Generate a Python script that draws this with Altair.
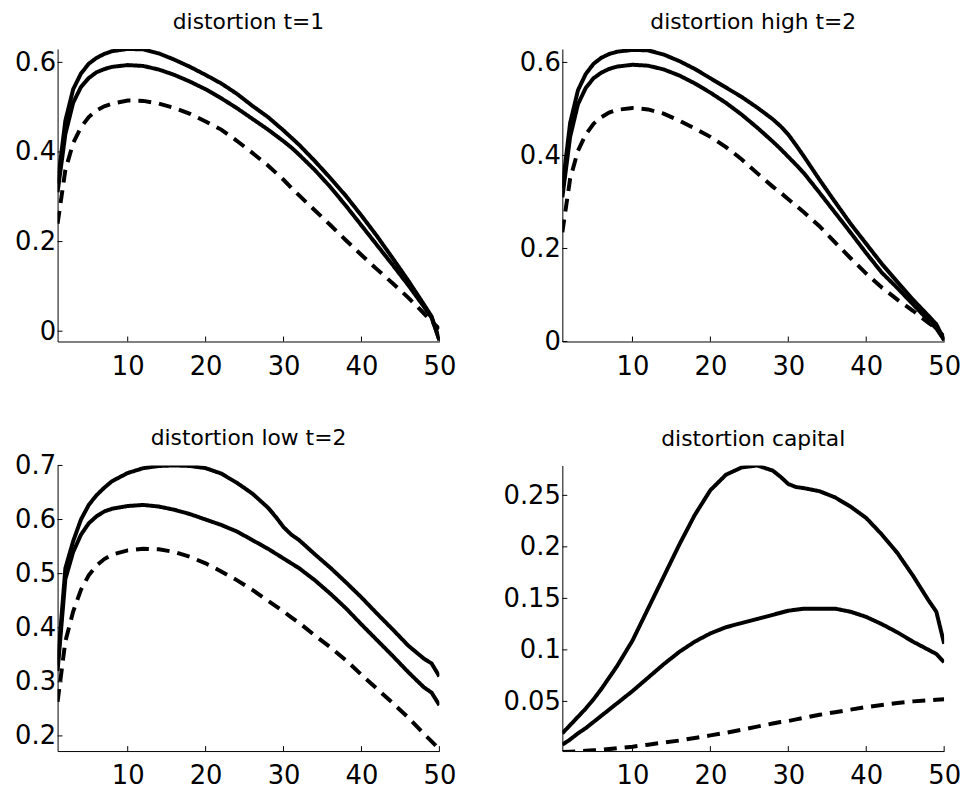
import altair as alt
import pandas as pd

X = [1, 2, 3, 4, 5, 6, 7, 8, 10, 12, 14, 16, 18, 20, 22, 24, 26, 28, 29, 30, 31,
     32, 34, 36, 38, 40, 42, 44, 46, 48, 49, 50]

A1 = [0.33, 0.47, 0.54, 0.575, 0.597, 0.61, 0.619, 0.625, 0.63, 0.629, 0.62, 0.606, 0.59, 0.572, 0.553, 0.53,
      0.503, 0.478, 0.463, 0.448, 0.432, 0.416, 0.38, 0.342, 0.302, 0.258, 0.212, 0.163, 0.113, 0.06, 0.033, -0.02]
B1 = [0.31, 0.44, 0.51, 0.545, 0.565, 0.578, 0.585, 0.59, 0.594, 0.592, 0.584, 0.572, 0.557, 0.54, 0.52, 0.498,
      0.474, 0.45, 0.437, 0.424, 0.41, 0.394, 0.36, 0.322, 0.28, 0.236, 0.192, 0.148, 0.103, 0.055, 0.03, -0.02]
C1 = [0.24, 0.36, 0.42, 0.455, 0.478, 0.493, 0.502, 0.508, 0.515, 0.514, 0.508, 0.498, 0.485, 0.468, 0.45, 0.425,
      0.398, 0.37, 0.354, 0.338, 0.32, 0.303, 0.27, 0.237, 0.203, 0.17, 0.138, 0.107, 0.075, 0.04, 0.022, 0.005]

A2 = [0.33, 0.47, 0.54, 0.575, 0.597, 0.61, 0.618, 0.623, 0.627, 0.626, 0.617, 0.603, 0.586, 0.566, 0.546, 0.526,
      0.503, 0.478, 0.463, 0.445, 0.422, 0.398, 0.348, 0.3, 0.253, 0.21, 0.167, 0.128, 0.09, 0.055, 0.037, 0.003]
B2 = [0.31, 0.44, 0.51, 0.545, 0.566, 0.578, 0.586, 0.591, 0.595, 0.593, 0.585, 0.572, 0.555, 0.535, 0.513, 0.488,
      0.46, 0.43, 0.414, 0.397, 0.38, 0.362, 0.32, 0.277, 0.234, 0.19, 0.148, 0.115, 0.08, 0.045, 0.028, 0.003]
C2 = [0.235, 0.35, 0.41, 0.445, 0.468, 0.482, 0.492, 0.498, 0.502, 0.499, 0.49, 0.475, 0.458, 0.44, 0.418, 0.392,
      0.362, 0.333, 0.32, 0.306, 0.292, 0.278, 0.248, 0.213, 0.179, 0.146, 0.116, 0.09, 0.066, 0.04, 0.028, 0.01]

A3 = [0.33, 0.51, 0.56, 0.6, 0.627, 0.645, 0.659, 0.671, 0.686, 0.695, 0.699, 0.7, 0.699, 0.695, 0.685, 0.668,
      0.648, 0.622, 0.605, 0.586, 0.572, 0.562, 0.536, 0.511, 0.484, 0.456, 0.426, 0.397, 0.367, 0.343, 0.334, 0.31]
B3 = [0.32, 0.49, 0.54, 0.572, 0.593, 0.606, 0.615, 0.62, 0.625, 0.627, 0.624, 0.618, 0.61, 0.6, 0.59, 0.578,
      0.562, 0.546, 0.537, 0.528, 0.519, 0.51, 0.488, 0.463, 0.436, 0.406, 0.377, 0.348, 0.318, 0.29, 0.28, 0.257]
C3 = [0.263, 0.375, 0.43, 0.47, 0.497, 0.515, 0.527, 0.535, 0.543, 0.546, 0.545, 0.54, 0.531, 0.519, 0.504, 0.488,
      0.47, 0.45, 0.44, 0.43, 0.419, 0.409, 0.386, 0.364, 0.34, 0.313, 0.287, 0.261, 0.234, 0.204, 0.19, 0.175]

A4 = [0.019, 0.027, 0.035, 0.043, 0.052, 0.062, 0.073, 0.084, 0.109, 0.14, 0.171, 0.202, 0.231, 0.255, 0.27, 0.277,
      0.279, 0.274, 0.268, 0.261, 0.258, 0.257, 0.254, 0.248, 0.239, 0.228, 0.212, 0.194, 0.172, 0.148, 0.137, 0.106]
B4 = [0.008, 0.013, 0.019, 0.024, 0.03, 0.036, 0.042, 0.048, 0.06, 0.073, 0.086, 0.098, 0.108, 0.116, 0.122, 0.126,
      0.13, 0.134, 0.136, 0.138, 0.139, 0.14, 0.14, 0.14, 0.137, 0.132, 0.125, 0.117, 0.108, 0.1, 0.096, 0.088]
C4 = [0.001, 0.0012, 0.0015, 0.002, 0.0025, 0.003, 0.0037, 0.0045, 0.006, 0.008, 0.01, 0.012, 0.0145, 0.017, 0.0195,
      0.0225, 0.0255, 0.0285, 0.03, 0.031, 0.0325, 0.034, 0.037, 0.0395, 0.042, 0.0445, 0.0465, 0.0485, 0.05, 0.051,
      0.0515, 0.052]

XTICKS = [10, 20, 30, 40, 50]
TITLES = ["distortion t=1", "distortion high t=2", "distortion low t=2", "distortion capital"]
YDOMS = [[-0.023, 0.63], [0.0, 0.629], [0.172, 0.7], [0.0018, 0.279]]
YTICKS = [[0, 0.2, 0.4, 0.6], [0, 0.2, 0.4, 0.6], [0.2, 0.3, 0.4, 0.5, 0.6, 0.7],
          [0.05, 0.1, 0.15, 0.2, 0.25]]

FONT = "DejaVu Sans"
W = 385


def panel(title, A, B, C, ydom, yticks, h, dy):
    n = len(X)
    df = pd.DataFrame({"x": X * 3, "y": A + B + C, "s": ["a"] * n + ["b"] * n + ["c"] * n})
    xs = alt.Scale(domain=[1, 50], nice=False, zero=False)
    ys = alt.Scale(domain=ydom, nice=False, zero=False)
    xa = alt.Axis(values=XTICKS, title=None, labelPadding=12, format="d",
                  labelFlush=False, labelOverlap=False)
    ya = alt.Axis(values=yticks, title=None, labelPadding=2, format="~g",
                  labelFlush=False, labelOverlap=False)
    lines = alt.Chart(df).mark_line(color="black", strokeWidth=4, clip=True, strokeCap="butt").encode(
        x=alt.X("x:Q", scale=xs, axis=xa),
        y=alt.Y("y:Q", scale=ys, axis=ya),
        detail="s:N",
        strokeDash=alt.StrokeDash("s:N", scale=alt.Scale(domain=["a", "b", "c"],
                                                          range=[[1, 0], [1, 0], [13, 8]]), legend=None),
    )
    yt = alt.Chart(pd.DataFrame({"v": yticks})).mark_rule(color="black", strokeWidth=1).encode(
        y=alt.Y("v:Q", scale=ys, axis=ya), x=alt.value(0), x2=alt.value(5))
    xt = alt.Chart(pd.DataFrame({"v": XTICKS})).mark_rule(color="black", strokeWidth=1).encode(
        x=alt.X("v:Q", scale=xs, axis=xa), y=alt.value(h), y2=alt.value(h - 5))
    return alt.layer(lines, yt, xt).properties(
        width=W, height=h,
        title=alt.TitleParams(title, fontSize=22, font=FONT, fontWeight="normal", anchor="middle",
                              baseline="alphabetic", offset=0, dy=dy, frame="group", color="black"),
    )


p1 = panel(TITLES[0], A1, B1, C1, YDOMS[0], YTICKS[0], 295, 2)
p2 = panel(TITLES[1], A2, B2, C2, YDOMS[1], YTICKS[1], 295, 2)
p3 = panel(TITLES[2], A3, B3, C3, YDOMS[2], YTICKS[2], 288, 14)
p4 = panel(TITLES[3], A4, B4, C4, YDOMS[3], YTICKS[3], 288, 2)

chart = alt.vconcat(
    alt.hconcat(p1, p2, spacing=63),
    alt.hconcat(p3, p4, spacing=47),
    spacing=48,
).properties(
    padding={"left": 6, "top": 0, "right": 0, "bottom": 0},
    background="white",
).configure_view(stroke=None).configure_axis(
    grid=False, ticks=False, domainColor="black", domainWidth=1,
    labelFont=FONT, labelFontSize=26, labelColor="black",
)

chart.save("out.html", embed_options={"renderer": "svg", "actions": False})
